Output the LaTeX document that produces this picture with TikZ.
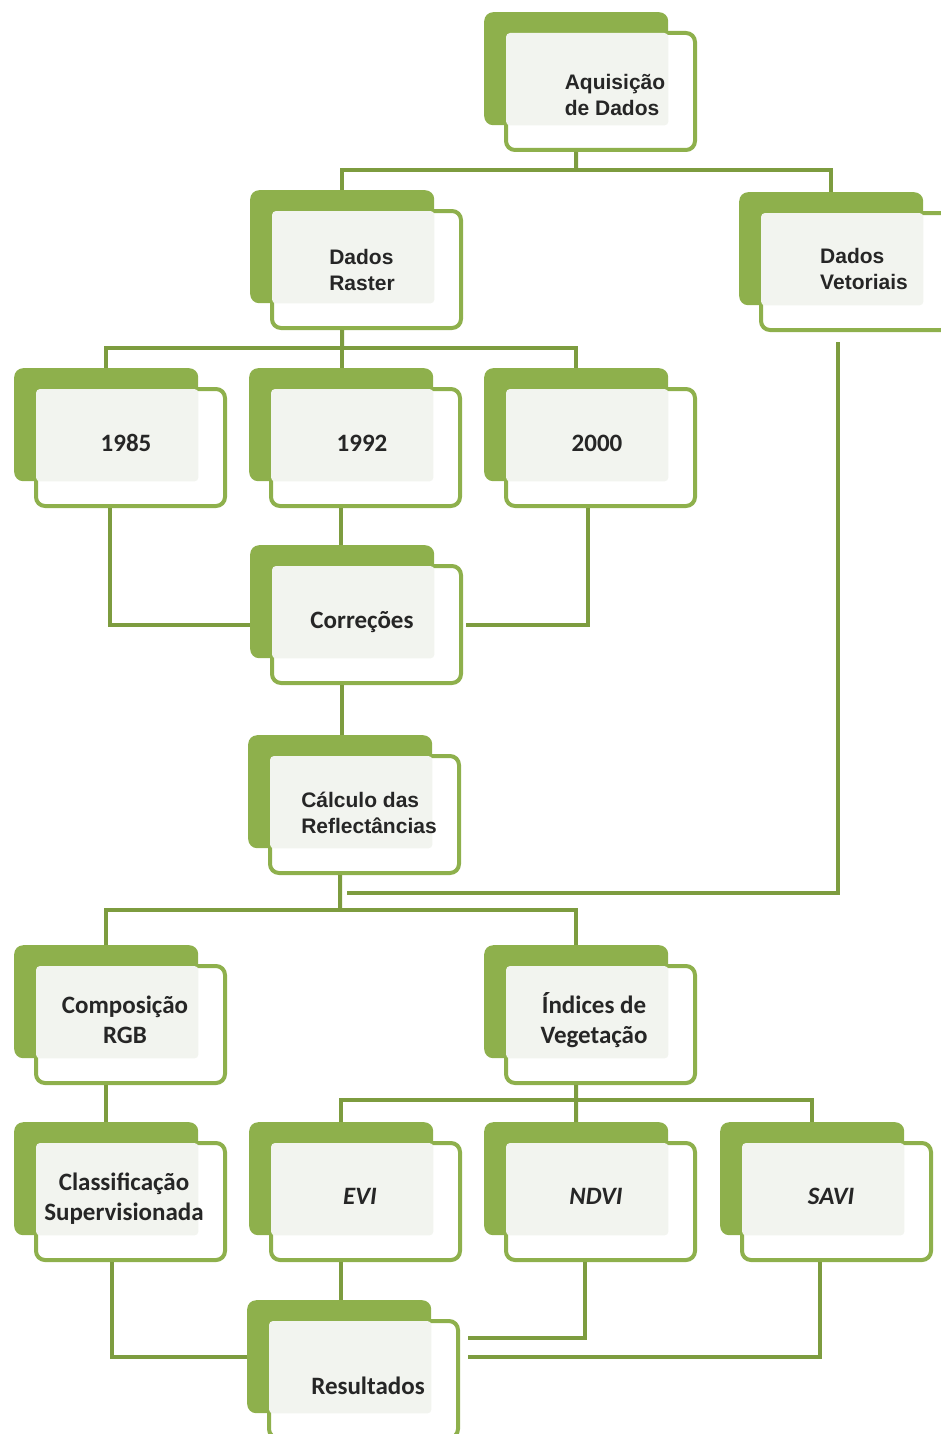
\documentclass[tikz,border=0pt]{standalone}
\usepackage{fontspec}
\newfontfamily\arialfam{Liberation Sans}
\newfontfamily\califam{Carlito}
\definecolor{cardgreen}{HTML}{8EB04C}
\definecolor{linegreen}{HTML}{7D9C3F}
\definecolor{innergrey}{HTML}{F2F4EF}
\definecolor{txt}{HTML}{262626}
\tikzset{
  backcard/.style={fill=cardgreen, rounded corners=9pt, minimum width=184pt,
    minimum height=113pt, inner sep=0pt, anchor=north west},
  frontcard/.style={draw=cardgreen, line width=4pt, fill=white, rounded corners=9pt,
    minimum width=189pt, minimum height=117pt, inner sep=0pt, anchor=north west},
  conn/.style={draw=linegreen, line width=4pt},
  arialtxt/.style={font=\arialfam\bfseries\fontsize{21}{26}\selectfont, align=left, text=txt, inner sep=0pt},
  calitxt/.style={font=\califam\bfseries\fontsize{25}{30}\selectfont, align=center, text=txt, inner sep=0pt},
  caliit/.style={font=\califam\bfseries\itshape\fontsize{25}{30}\selectfont, text=txt, inner sep=0pt},
}
% a card: green back plate, white framed front plate, light grey text field
\newcommand\card[3]{%
  \node[backcard] (#1-b) at (#2,#3) {};
  \node[frontcard] (#1) at (#2+20,#3+19) {};
  \fill[innergrey, rounded corners=4pt] ([shift={(2pt,-2pt)}]#1.north west) rectangle (#1-b.south east);
}
\begin{document}
\begin{tikzpicture}[x=1pt,y=-1pt]
\useasboundingbox (0,0) rectangle (941,1434);
\begin{scope}
\clip (0,0) rectangle (941,1434);
\card{aq}{484}{12}
\card{raster}{250}{190}
\card{vet}{739}{192}
\card{yA}{14}{368}
\card{yB}{249}{368}
\card{yC}{484}{368}
\card{corr}{250}{545}
\card{calc}{248}{735}
\card{comp}{14}{945}
\card{ind}{484}{945}
\card{class}{14}{1122}
\card{evi}{249}{1122}
\card{ndvi}{484}{1122}
\card{savi}{720}{1122}
\card{res}{247}{1300}

% labels
\node[arialtxt] (aq-t) at (615,95) {Aquisição\\de Dados};
\node[arialtxt] (raster-t) at (362,270) {Dados\\Raster};
\node[arialtxt] (vet-t) at (864,269) {Dados\\Vetoriais};
\node[calitxt] (yA-t) at (126,443) {1985};
\node[calitxt] (yB-t) at (362,443) {1992};
\node[calitxt] (yC-t) at (597,443) {2000};
\node[calitxt] (corr-t) at (362,622) {Correções};
\node[arialtxt] (calc-t) at (369,813) {Cálculo das\\Reflectâncias};
\node[calitxt] (comp-t) at (125,1020) {Composição\\RGB};
\node[calitxt] (ind-t) at (594,1020) {Índices de\\Vegetação};
\node[calitxt] (class-t) at (124,1199) {Classificação\\Supervisionada};
\node[caliit] (evi-t) at (360,1196) {EVI};
\node[caliit] (ndvi-t) at (596,1196) {NDVI};
\node[caliit] (savi-t) at (831,1196) {SAVI};
\node[calitxt] (res-t) at (368,1386) {Resultados};

% junctions
\coordinate (bus1) at (576,170);
\coordinate (bus2) at (342,348);
\coordinate (bus3) at (340,910);
\coordinate (bus4) at (576,1100);
\coordinate (vecend) at (347,893);
\coordinate (resn) at (468,1338);
\coordinate (ress) at (468,1357);

% connectors
\draw[conn] (aq-b.south |- aq.south) -- (bus1);
\draw[conn] (raster-b.north) |- (bus1) -| (vet-b.north);
\draw[conn] (raster-b.south |- raster.south) -- (bus2);
\draw[conn] (yA-b.north) |- (bus2) -| (yC-b.north);
\draw[conn] (bus2) -- (bus2 |- yB-b.north);
\draw[conn] ([xshift=4pt]yA-b.south |- yA.south) |- (corr-b.west |- corr.west);
\draw[conn] (yB-b.south |- yB.south) -- (yB-b.south |- corr-b.north);
\draw[conn] ([xshift=12pt]yC-b.south |- yC.south) |- ([xshift=3pt]corr.east);
\draw[conn] (corr-b.south |- corr.south) -- (corr-b.south |- calc-b.north);
\draw[conn] ([xshift=7pt,yshift=-10pt]vet-b.south |- vet.south) |- (vecend);
\draw[conn] (calc-b.south |- calc.south) -- (bus3);
\draw[conn] (comp-b.north) |- (bus3) -| (ind-b.north);
\draw[conn] (comp-b.south |- comp.south) -- (class-b.north);
\draw[conn] (ind-b.south |- ind.south) -- (bus4);
\draw[conn] (evi-b.north) |- (bus4) -| (savi-b.north);
\draw[conn] (bus4) -- (ndvi-b.north);
\draw[conn] ([xshift=6pt]class-b.south |- class.south) |- (res-b.west);
\draw[conn] (evi-b.south |- evi.south) -- (evi-b.south |- res-b.north);
\draw[conn] ([xshift=9pt]ndvi-b.south |- ndvi.south) |- (resn);
\draw[conn] ([xshift=8pt]savi-b.south |- savi.south) |- (ress);
\end{scope}
\end{tikzpicture}
\end{document}
